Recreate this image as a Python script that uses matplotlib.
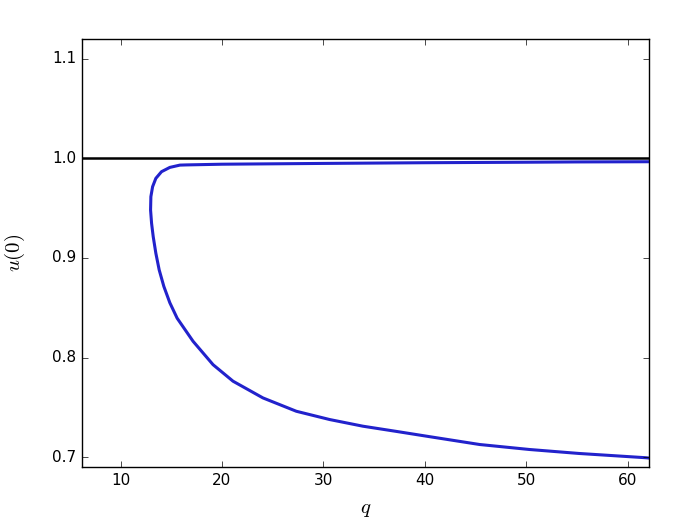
#!/usr/bin/env python3

import matplotlib
matplotlib.use('Agg')
import matplotlib.pyplot as plt

# solution branch traced along the fold: upper branch (right to left),
# round the turning point, then the lower branch (left to right)
q = [62.1, 55.0, 50.0, 40.0, 30.0, 20.0, 16.5, 15.85,
     14.86, 14.04, 13.48, 13.16, 12.99, 12.96, 13.06, 13.22, 13.48,
     13.81, 14.27, 14.86, 15.58, 17.15, 19.12, 21.09,
     24.04, 27.33, 30.61, 33.89, 37.17, 40.45, 45.4, 50.3, 55.2,
     61.8, 62.1]
u = [0.9967, 0.9965, 0.9962, 0.9957, 0.9950, 0.9942, 0.9935, 0.9933,
     0.9910, 0.9867, 0.9800, 0.9716, 0.9616, 0.9482, 0.9348, 0.9215, 0.9048,
     0.8880, 0.8714, 0.8550, 0.8395, 0.8163, 0.7928, 0.7762,
     0.7594, 0.7460, 0.7377, 0.7310, 0.7258, 0.7205, 0.7126, 0.7076, 0.7036,
     0.6993, 0.6990]

# trivial solution u(0) = 1
q_trivial = [6.2, 62.1]
u_trivial = [1.0, 1.0]

plt.style.use('classic')
fig, ax = plt.subplots(figsize=(6.81, 5.26), dpi=100)
fig.patch.set_facecolor('white')
fig.subplots_adjust(left=82/681, right=649/681, bottom=1-467/526, top=1-39/526)

ax.plot(q_trivial, u_trivial, color='black', linewidth=1.8)
ax.plot(q, u, color='#2222cc', linewidth=2.2)

ax.set_xlim(6.2, 62.1)
ax.set_ylim(0.69, 1.12)
ax.set_xticks([10, 20, 30, 40, 50, 60])
ax.set_yticks([0.7, 0.8, 0.9, 1.0, 1.1])
ax.tick_params(labelsize=11)

ax.set_xlabel(r'$q$', fontsize=15, labelpad=8)
ax.set_ylabel(r'$u(0)$', fontsize=15, labelpad=18)

fig.savefig('out.png', dpi=100, facecolor='white')
